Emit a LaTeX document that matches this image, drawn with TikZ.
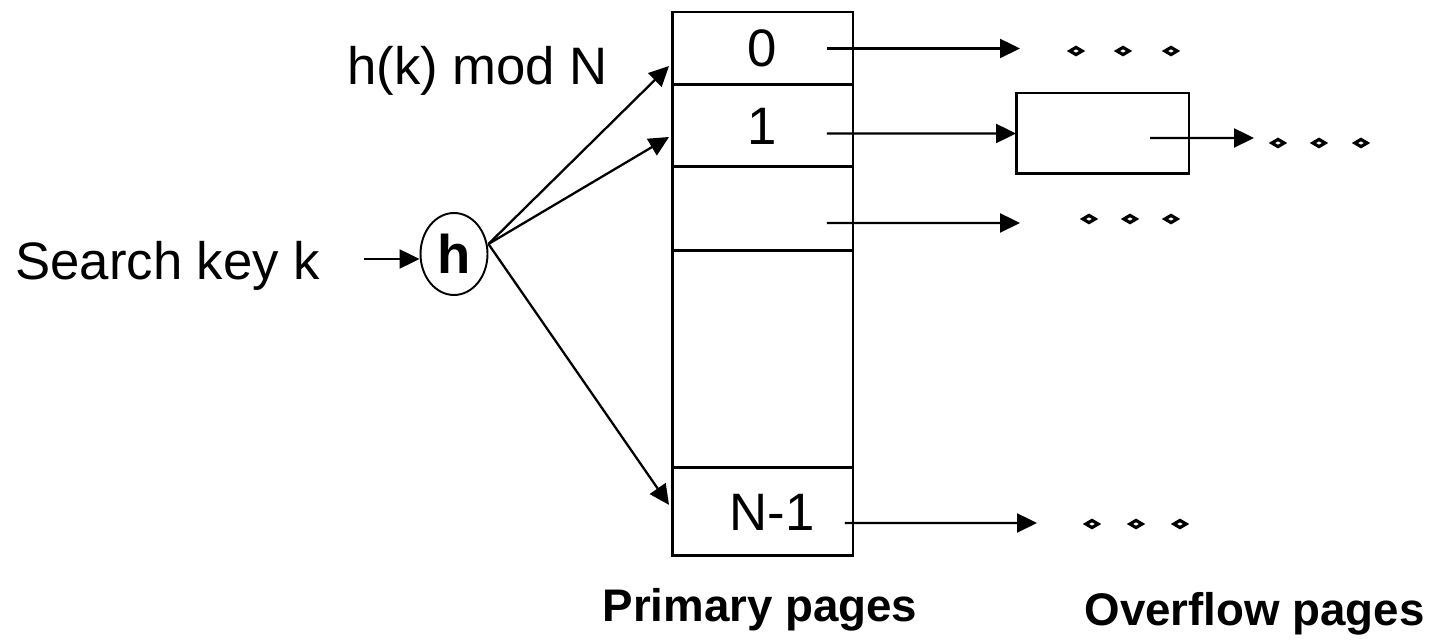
\documentclass[tikz,border=0pt]{standalone}
\usepackage{fontspec}
\setmainfont{Liberation Sans}
\usetikzlibrary{shapes.geometric, arrows.meta, positioning, calc}
\tikzset{
  page/.style={draw,line width=1.7pt,minimum width=3.62cm,inner sep=0pt,outer sep=0pt,font=\fontsize{30}{36}\selectfont},
  ovpage/.style={draw,line width=1.7pt,minimum width=3.46cm,minimum height=1.62cm,outer sep=0pt},
  hash/.style={ellipse,draw,line width=1.1pt,minimum width=1.34cm,minimum height=1.64cm,inner sep=0pt,font=\fontsize{31}{36}\selectfont\bfseries},
  link/.style={line width=1.3pt,-{Triangle[length=0.4cm,width=0.38cm]}},
  more/.style={diamond,draw,line width=1.8pt,inner sep=0pt,minimum width=0.27cm,minimum height=0.17cm},
  lbl/.style={font=\fontsize{30}{36}\selectfont,inner sep=0pt},
  caption/.style={font=\fontsize{26}{30}\selectfont\bfseries,inner sep=0pt},
}

\begin{document}
\begin{tikzpicture}[x=0.02cm,y=-0.02cm]
	\useasboundingbox (0,0) rectangle (1433,644);
	% primary pages
	\node[page,minimum height=1.46cm] (c0) at (762.5,48.5) {0};
	\node[page,minimum height=1.64cm,below=0pt of c0] (c1) {1};
	\node[page,minimum height=1.68cm,below=0pt of c1] (c2) {};
	\node[page,minimum height=4.34cm,below=0pt of c2] (c3) {};
	\node[page,minimum height=1.76cm,below=0pt of c3] (cN) {\hspace*{0.38cm}N-1};
	% hash function
	\node[hash] (h) at (454,254) {h};
	\node[lbl,anchor=base west] (key) at (15,280) {Search key k};
	\node[lbl,anchor=base west] (mod) at (347,85) {h(k) mod N};
	\draw[link] ($(key.east |- h.west)+(0.88cm,-0.1cm)$) -- ([yshift=-0.1cm]h.west);
	\coordinate (hout) at ([yshift=0.2cm]h.east);
	\draw[link] (hout) -- ([xshift=-0.06cm,yshift=-0.35cm]c0.west);
	\draw[link] (hout) -- ([xshift=-0.06cm,yshift=-0.22cm]c1.west);
	\draw[link] (hout) -- ([xshift=-0.06cm,yshift=0.14cm]cN.west);
	% overflow pages
	\node[ovpage] (ov) at (1102.5,133.5) {};
	\coordinate (e0) at (1020,48.5);
	\coordinate (e1) at (1254,138);
	\coordinate (e2) at (1020,223);
	\coordinate (eN) at (1037,523);
	\draw[link] ([xshift=-0.52cm]c0.east) -- (e0);
	\draw[link] ([xshift=-0.52cm,yshift=-0.15cm]c1.east) -- (ov.west);
	\draw[link] ([xshift=-0.52cm,yshift=-0.28cm]c2.east) -- (e2);
	\draw[link] ([xshift=-0.16cm,yshift=-0.22cm]cN.east) -- (eN);
	\draw[link] ([xshift=0.95cm,yshift=-0.09cm]ov.center) -- (e1);
	\foreach \x [count=\i] in {1076,1123,1171} \node[more] (d0\i) at (\x,51) {};
	\foreach \x [count=\i] in {1278,1319,1361} \node[more] (d1\i) at (\x,143) {};
	\foreach \x [count=\i] in {1089,1130,1171} \node[more] (d2\i) at (\x,219) {};
	\foreach \x [count=\i] in {1092,1136,1180} \node[more] (dN\i) at (\x,524) {};
	% captions
	\node[caption] (prim) at (760,610) {Primary pages};
	\node[caption,anchor=base east] (over) at (1425,625) {Overflow pages};
\end{tikzpicture}
\end{document}
